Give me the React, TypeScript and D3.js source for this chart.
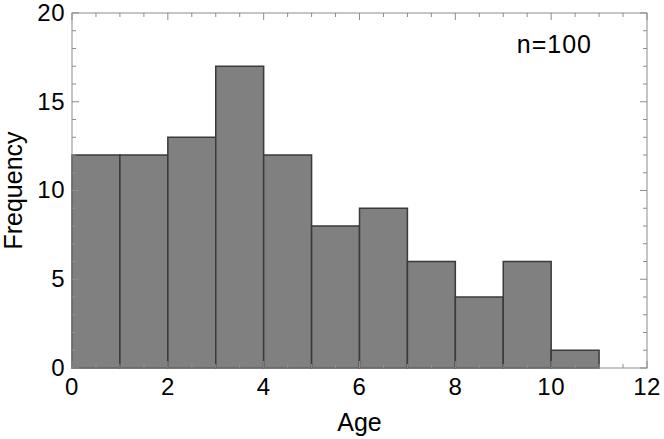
import React from "react";
import * as d3 from "d3";

// histogram bins (Age, width 1) and counts
const binStarts = [0, 1, 2, 3, 4, 5, 6, 7, 8, 9, 10];
const counts = [12, 12, 13, 17, 12, 8, 9, 6, 4, 6, 1];
const xTicks = [0, 2, 4, 6, 8, 10, 12];
const yTicks = [0, 5, 10, 15, 20];
const label = "n=100";

const width = 664;
const height = 439;
const margin = { top: 13, right: 17, bottom: 71, left: 72 };
const font = "'Liberation Sans', Arial, Helvetica, sans-serif";
const frameColor = "#8c8c8c";

const App = () => {
  const x = d3.scaleLinear().domain([0, 12]).range([margin.left, width - margin.right]);
  const y = d3.scaleLinear().domain([0, 20]).range([height - margin.bottom, margin.top]);

  const xMinor = d3.range(0, 12.01, 0.5).filter((v) => !xTicks.includes(v));
  const yMinor = d3.range(0, 20.01, 1).filter((v) => !yTicks.includes(v));
  const x0 = x(0), x1 = x(12), y0 = y(0), y1 = y(20);
  const major = 7;
  const minor = 4;

  return (
    <svg width={width} height={height} style={{ position: "absolute", left: 0, top: 0 }} fontFamily={font}>
      {/* bars */}
      {binStarts.map((b, i) => (
        <rect
          key={i}
          x={x(b)}
          y={y(counts[i])}
          width={x(b + 1) - x(b)}
          height={y(0) - y(counts[i])}
          fill="#808080"
          stroke="#3a3a3a"
          strokeWidth={1.5}
        />
      ))}

      {/* frame */}
      <rect x={x0} y={y1} width={x1 - x0} height={y0 - y1} fill="none" stroke={frameColor} strokeWidth={1} />

      {/* x ticks, bottom + top */}
      {xTicks.map((t) => (
        <g key={"xt" + t}>
          <line x1={x(t)} x2={x(t)} y1={y0} y2={y0 - major} stroke={frameColor} />
          <line x1={x(t)} x2={x(t)} y1={y1} y2={y1 + major} stroke={frameColor} />
          <text x={x(t)} y={y0 + 27} textAnchor="middle" fontSize={24} letterSpacing={0.5} fill="#000">
            {t}
          </text>
        </g>
      ))}
      {xMinor.map((t) => (
        <g key={"xm" + t}>
          <line x1={x(t)} x2={x(t)} y1={y0} y2={y0 - minor} stroke={frameColor} />
          <line x1={x(t)} x2={x(t)} y1={y1} y2={y1 + minor} stroke={frameColor} />
        </g>
      ))}

      {/* y ticks, left + right */}
      {yTicks.map((t) => (
        <g key={"yt" + t}>
          <line x1={x0} x2={x0 + major} y1={y(t)} y2={y(t)} stroke={frameColor} />
          <line x1={x1} x2={x1 - major} y1={y(t)} y2={y(t)} stroke={frameColor} />
          <text x={x0 - 7} y={y(t)} dy="0.33em" textAnchor="end" fontSize={24} letterSpacing={0.5} fill="#000">
            {t}
          </text>
        </g>
      ))}
      {yMinor.map((t) => (
        <g key={"ym" + t}>
          <line x1={x0} x2={x0 + minor} y1={y(t)} y2={y(t)} stroke={frameColor} />
          <line x1={x1} x2={x1 - minor} y1={y(t)} y2={y(t)} stroke={frameColor} />
        </g>
      ))}

      {/* axis labels */}
      <text x={(x0 + x1) / 2} y={431} textAnchor="middle" fontSize={25} fill="#000">
        Age
      </text>
      <text
        transform={`translate(22,${(y0 + y1) / 2}) rotate(-90)`}
        textAnchor="middle"
        fontSize={25}
        fill="#000"
      >
        Frequency
      </text>

      {/* annotation */}
      <text x={592} y={53} textAnchor="end" fontSize={25} letterSpacing={1} fill="#000">
        {label}
      </text>
    </svg>
  );
};

export default App;
